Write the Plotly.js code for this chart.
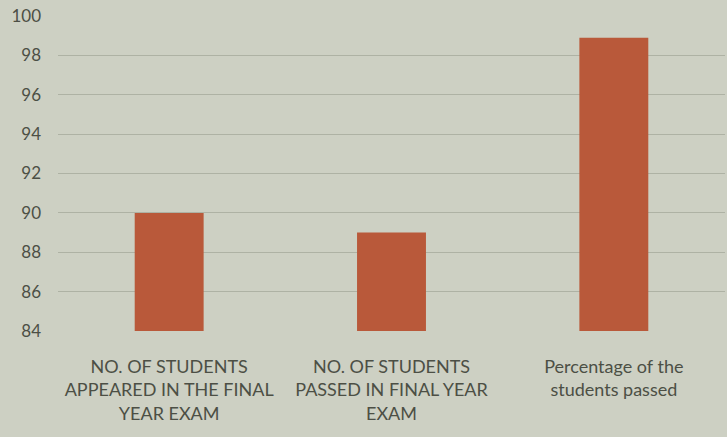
<!DOCTYPE html>
<html><head><meta charset="utf-8">
<script src="https://cdn.plot.ly/plotly-3.0.1.min.js"></script>
<style>html,body{margin:0;padding:0;background:#cdd0c3;}</style>
</head><body>
<div id="chart" style="width:727px;height:437px;"></div>
<script>
const categories = [
  "NO. OF STUDENTS<br>APPEARED IN THE FINAL<br>YEAR EXAM",
  "NO. OF STUDENTS<br>PASSED IN FINAL YEAR<br>EXAM",
  "Percentage of the<br>students passed"
];
const values = [90, 89, 98.9];
const yTicks = [84, 86, 88, 90, 92, 94, 96, 98, 100];

Plotly.newPlot('chart', [{
  type: 'bar',
  x: categories,
  y: values,
  marker: {color: '#b9593a'},
  width: 0.31,
  hoverinfo: 'none'
}], {
  width: 727, height: 437,
  paper_bgcolor: '#cdd0c3',
  plot_bgcolor: '#cdd0c3',
  margin: {l: 58, r: 2, t: 16, b: 106},
  font: {family: 'Lato, sans-serif', color: '#4c4f45', size: 18},
  showlegend: false,
  xaxis: {
    tickfont: {size: 18, color: '#4c4f45'},
    showgrid: false, zeroline: false, showline: false,
    ticks: '', ticklabelstandoff: 23
  },
  yaxis: {
    range: [84, 100],
    tickvals: yTicks,
    ticktext: yTicks.map(String),
    tickfont: {size: 17, color: '#4c4f45'},
    gridcolor: '#aeb2a4', gridwidth: 1,
    zeroline: false, showline: false,
    ticks: '', ticklabelstandoff: 16
  }
}, {displayModeBar: false, staticPlot: true});
</script>
</body></html>
